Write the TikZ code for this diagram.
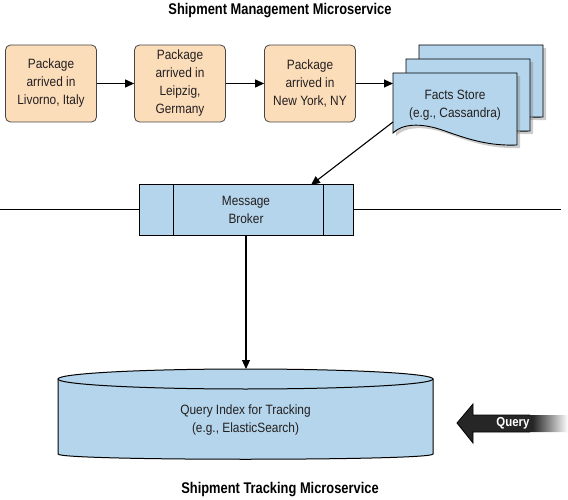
\documentclass[tikz,border=0pt]{standalone}
\usepackage{fontspec}
\setmainfont{Liberation Sans}[FakeStretch=0.88]
\newfontfamily\titlefont{Liberation Sans}[FakeStretch=0.83]
\usetikzlibrary{arrows.meta,shadows}
\definecolor{peach}{RGB}{252,221,186}
\definecolor{sblue}{RGB}{180,213,235}
\definecolor{edge}{RGB}{70,70,70}
\definecolor{txt}{RGB}{35,31,32}
\definecolor{qdark}{RGB}{38,38,38}
\pgfdeclarehorizontalshading{qshade}{100bp}{color(0bp)=(qdark); color(25bp)=(qdark); color(59bp)=(qdark); color(75bp)=(white); color(100bp)=(white)}
\newcommand\FSCardShape{(393,73) -- (517,73) -- (517,145) .. controls (490,146) and (470,140) .. (445,131) .. controls (420,122) and (402,124) .. (393,133) -- cycle}
\begin{document}
\begin{tikzpicture}[x=1pt,y=-1pt,
  txtfont/.style={font=\fontsize{13.5}{18}\selectfont, text=txt, align=center},
  event/.style={txtfont, draw=edge, line width=0.8pt, fill=peach, rounded corners=5pt, minimum width=91pt, minimum height=77pt, inner sep=0pt},
  conn/.style={line width=1.1pt, -{Triangle[length=9pt,width=8pt]}},
  card/.style={draw=black, line width=0.9pt, fill=sblue, drop shadow={shadow xshift=3pt, shadow yshift=-3pt, opacity=0.4}},
  bluebox/.style={txtfont, draw=black, line width=1pt, fill=sblue, inner sep=0pt},
  title/.style={font=\titlefont\fontsize{15.5}{18}\selectfont\bfseries, text=black}]

\useasboundingbox (0,0) rectangle (568,500);

% titles
\node[title] (t1) at (280,11) {Shipment Management Microservice};
\node[title] (t2) at (280,490) {Shipment Tracking Microservice};

% events
\node[event] (b1) at (51,83.5) {Package\\arrived in\\Livorno, Italy};
\node[event] (b2) at (180,83.5) {Package\\arrived in\\Leipzig,\\Germany};
\node[event] (b3) at (310,83.5) {Package\\arrived in\\New York, NY};

% facts store cards
\begin{scope}[shift={(26,-28)}]
  \path[card] \FSCardShape;
\end{scope}
\begin{scope}[shift={(13,-14)}]
  \path[card] \FSCardShape;
\end{scope}
\path[card] \FSCardShape;
\node[txtfont] (fs) at (455,105.5) {Facts Store\\(e.g., Cassandra)};
\coordinate (fsl) at (393,100);
\coordinate (fsb) at (393,122);

% message broker
\coordinate (hl) at (0,210);
\coordinate (hr) at (561,210);
\node[bluebox, minimum width=214pt, minimum height=50pt] (brk) at (246,210) {Message\\Broker};
\draw[line width=1pt] ([xshift=35pt]brk.north west) -- ([xshift=35pt]brk.south west);
\draw[line width=1pt] ([xshift=-30pt]brk.north east) -- ([xshift=-30pt]brk.south east);
\draw[line width=1pt] (hl) -- (brk.west);
\draw[line width=1pt] (brk.east) -- (hr);
\coordinate (brkin) at (311,185);

% query index cylinder
\path[draw=black, line width=1pt, fill=sblue] (58,379) -- (58,454) .. controls (58,461) and (433,461) .. (433,454) -- (433,379) -- cycle;
\draw[line width=1pt, fill=sblue] (245.5,379) ellipse [x radius=187.5, y radius=10];
\node[txtfont] (qi) at (245.5,420.5) {Query Index for Tracking\\(e.g., ElasticSearch)};
\coordinate (cyltop) at (246,369);

% connectors
\draw[conn] (b1.east) -- (b2.west);
\draw[conn] (b2.east) -- (b3.west);
\draw[conn] (b3.east) -- (b3.east -| fsl);
\draw[conn] (fsb) -- (brkin);
\draw[conn] (brk.south) -- (cyltop);

% query arrow
\path[shading=qshade] (457,423) -- (473,404) -- (473,415) -- (568,415) -- (568,432) -- (473,432) -- (473,443) -- cycle;
\draw[line width=0.8pt, black] (530,415) -- (473,415) -- (473,404) -- (457,423) -- (473,443) -- (473,432) -- (530,432);
\node[font=\fontsize{13}{15}\selectfont\bfseries, text=white] (q) at (513,423) {Query};
\end{tikzpicture}
\end{document}
